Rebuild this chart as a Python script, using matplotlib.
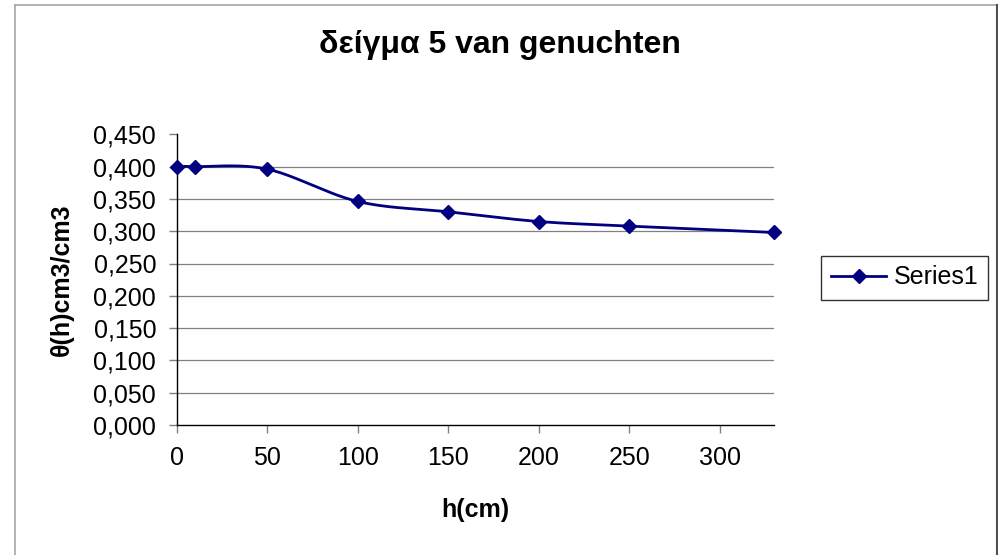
import matplotlib
matplotlib.use("Agg")
import matplotlib.pyplot as plt
from matplotlib.lines import Line2D
from matplotlib.ticker import FuncFormatter
import numpy as np

plt.rcParams["font.family"] = ["Liberation Sans", "DejaVu Sans"]

# suction head h (cm) and water content theta (cm3/cm3)
h_cm = [0, 10, 50, 100, 150, 200, 250, 330]
theta = [0.400, 0.400, 0.396, 0.346, 0.330, 0.315, 0.308, 0.298]

TITLE = "δείγμα 5 van genuchten"
XLABEL = "h(cm)"
YLABEL = "θ(h)cm3/cm3"
SERIES = "Series1"

NAVY = "#000080"
W, H = 998, 555


def smooth_curve(xs, ys, n=40):
    """Catmull-Rom style cubic Bezier through every point (Excel-like smoothing)."""
    p = np.column_stack([xs, ys]).astype(float)
    p = np.vstack([p[0], p, p[-1]])
    t = np.linspace(0, 1, n)[:, None]
    out = []
    for i in range(1, len(p) - 2):
        p0, p1 = p[i], p[i + 1]
        c1 = p0 + (p[i + 1] - p[i - 1]) / 6
        c2 = p1 - (p[i + 2] - p[i]) / 6
        seg = ((1 - t) ** 3 * p0 + 3 * (1 - t) ** 2 * t * c1
               + 3 * (1 - t) * t ** 2 * c2 + t ** 3 * p1)
        out.append(seg if i == 1 else seg[1:])
    seg = np.vstack(out)
    return seg[:, 0], seg[:, 1]


fig = plt.figure(figsize=(W / 100, H / 100), dpi=100)
ax = fig.add_axes([177 / W, 1 - 425 / H, 597 / W, 290.7 / H])

sx, sy = smooth_curve(h_cm, theta)
ax.plot(sx, sy, color=NAVY, lw=2.0, zorder=3, clip_on=False)
ax.plot(h_cm, theta, ls="none", marker="D", ms=7, color=NAVY, zorder=4,
        clip_on=False)

ax.set_xlim(0, 330)
ax.set_ylim(0, 0.45)
xticks = np.arange(0, 301, 50)
yticks = np.linspace(0, 0.45, 10)
ax.set_xticks(xticks)
ax.set_yticks(yticks)
ax.yaxis.set_major_formatter(FuncFormatter(lambda v, _: f"{v:.3f}".replace(".", ",")))

ax.spines[["top", "right"]].set_visible(False)
for s in ("left", "bottom"):
    ax.spines[s].set_color("black")
    ax.spines[s].set_linewidth(1.0)
ax.tick_params(axis="both", direction="out", length=6, width=1.0, color="#808080",
               labelsize=18, pad=9)

# horizontal gridlines, none along the top edge
ax.hlines(yticks[1:-1], 0, 330, color="#808080", lw=0.9, zorder=0)

ax.set_xlabel(XLABEL, fontsize=18, fontweight="bold", labelpad=20)
ax.set_ylabel(YLABEL, fontsize=18, fontweight="bold", labelpad=14)

fig.text(500 / W, 1 - 53 / H, TITLE, ha="center", va="baseline",
         fontsize=23, fontweight="bold")

handle = Line2D([0], [0], color=NAVY, lw=2.0, marker="D", ms=7)
leg = fig.legend([handle], [SERIES], loc="center left",
                 bbox_to_anchor=(821 / W, 1 - 277.5 / H), bbox_transform=fig.transFigure,
                 fontsize=18, frameon=True, fancybox=False, borderpad=0.4,
                 handlelength=2.2, handletextpad=0.3, borderaxespad=0)
leg.get_frame().set_edgecolor("black")
leg.get_frame().set_linewidth(1.0)

# outer chart frame
fig.add_artist(Line2D([15 / W, 15 / W], [0, 1 - 5 / H], color="#a6a6a6", lw=1.2))
fig.add_artist(Line2D([15 / W, 997 / W], [1 - 5 / H, 1 - 5 / H], color="#a6a6a6", lw=1.2))
fig.add_artist(Line2D([997 / W, 997 / W], [0, 1 - 5 / H], color="#505050", lw=1.5))

fig.savefig("out.png", dpi=100)
